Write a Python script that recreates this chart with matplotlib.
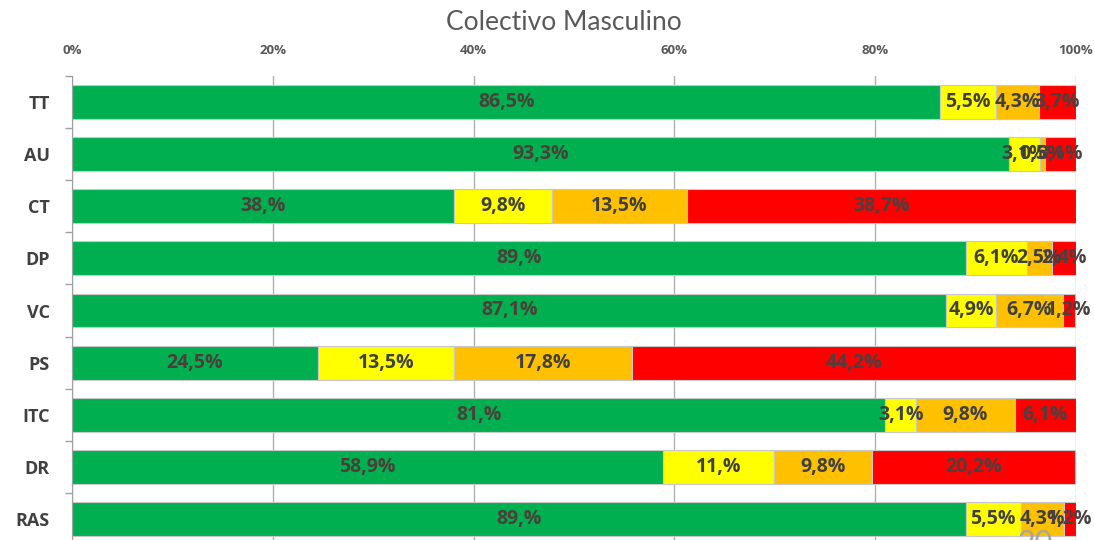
import numpy as np
import matplotlib.pyplot as plt

categorias = ["TT", "AU", "CT", "DP", "VC", "PS", "ITC", "DR", "RAS"]
verde = [86.5, 93.3, 38.0, 89.0, 87.1, 24.5, 81.0, 58.9, 89.0]
amarillo = [5.5, 3.1, 9.8, 6.1, 4.9, 13.5, 3.1, 11.0, 5.5]
naranja = [4.3, 0.5, 13.5, 2.5, 6.7, 17.8, 9.8, 9.8, 4.3]
rojo = [3.7, 3.1, 38.7, 2.4, 1.2, 44.2, 6.1, 20.2, 1.2]

series = [verde, amarillo, naranja, rojo]
colores = ["#00B050", "#FFFF00", "#FFC000", "#FF0000"]
col_texto = ["#4a4038", "#404040", "#404040", "#4a4040"]

plt.rcParams["font.family"] = ["Open Sans", "DejaVu Sans"]


def etiqueta(v):
    # formato tipo Excel "#,#%": sin cero decimal -> "38,%"
    s = f"{v:.1f}".replace(".", ",")
    if s.endswith(",0"):
        s = s[:-1]
    return s + "%"


fig = plt.figure(figsize=(10.94, 5.40), dpi=100)
ax = fig.add_axes([72 / 1094, -5 / 540, (1076 - 72) / 1094, 469 / 540])

y = np.arange(len(categorias))
izq = np.zeros(len(categorias))
for vals, c, ct in zip(series, colores, col_texto):
    vals = np.array(vals)
    barras = ax.barh(y, vals, left=izq, height=0.65, color=c,
                     edgecolor="#c8c8c8", linewidth=0.8, zorder=2)
    ax.bar_label(barras, labels=[etiqueta(v) for v in vals], label_type="center",
                 color=ct, fontsize=14, fontweight="bold", zorder=3)
    izq += vals

ax.set_xlim(0, 100)
ax.set_ylim(len(categorias) - 0.5, -0.5)
ax.set_yticks(y)
ax.set_yticklabels(categorias, fontsize=13, fontweight="bold", color="#404040")
ax.set_yticks(np.arange(-0.5, len(categorias), 1), minor=True)
ax.tick_params(axis="y", which="major", length=0, pad=16)
ax.tick_params(axis="y", which="minor", length=5, color="#a0a0a0", width=1)

ax.xaxis.tick_top()
ax.set_xticks(np.arange(0, 101, 20))
ax.set_xticklabels([f"{t}%" for t in range(0, 101, 20)], fontsize=9.5,
                   fontweight="bold", color="#595959")
ax.tick_params(axis="x", length=0, pad=14)
ax.grid(axis="x", color="#b0b0b0", linewidth=1, zorder=0)
ax.set_axisbelow(True)

for s in ["top", "right", "bottom"]:
    ax.spines[s].set_visible(False)
ax.spines["left"].set_color("#a0a0a0")

fig.text(0.515, 0.958, "Colectivo Masculino", ha="center", va="center",
         fontsize=19, color="#595959", family=["Lato", "DejaVu Sans"])
fig.text(1035 / 1094, -0.005, "20", ha="center", va="center",
         fontsize=22, color="#a6a6a6", family=["Lato", "DejaVu Sans"])

fig.savefig("out.png", dpi=100)
